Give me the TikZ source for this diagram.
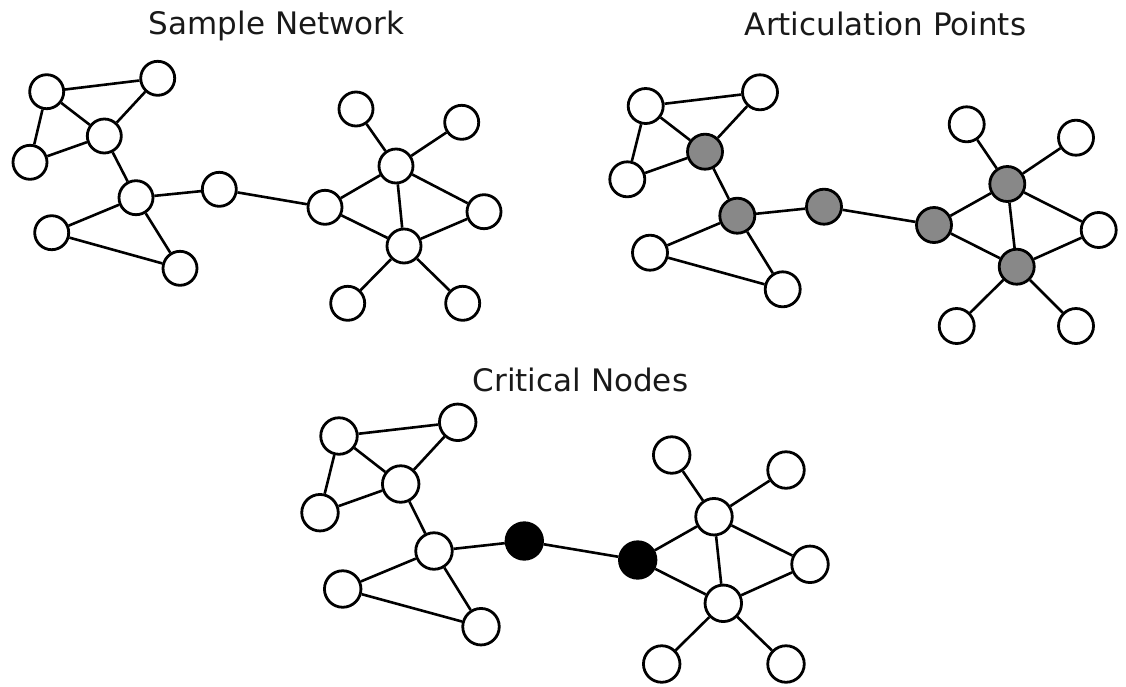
\documentclass[tikz,border=0pt]{standalone}
\usepackage{fontspec}
\setmainfont{DejaVu Sans}
\definecolor{apgray}{RGB}{136,136,136}
\definecolor{titlecol}{RGB}{25,25,25}
\begin{document}
\begin{tikzpicture}[x=1pt,y=-1pt,
  vtx/.style={circle,draw=black,line width=2.8pt,inner sep=0pt},
  wn/.style={vtx,fill=white},
  gn/.style={vtx,fill=apgray},
  bn/.style={vtx,fill=black},
  sz1/.style={minimum size=34pt},
  sz2/.style={minimum size=35pt},
  sz3/.style={minimum size=36.5pt},
  edge/.style={line width=2.6pt},
  title/.style={anchor=base,font=\fontsize{31}{37}\selectfont,text=titlecol}]
\useasboundingbox (0,0) rectangle (1126,686);
% titles
\node[title] (t1) at (276.7,34.3) {Sample Network};
\node[title] (t2) at (885.5,35) {Articulation Points};
\node[title] (t3) at (580.5,391) {Critical Nodes};
% ---------- graph 1: Sample Network ----------
\begin{scope}[every node/.append style={sz1}]
\node[wn] (aA) at (46.7,91.7) {};
\node[wn] (aB) at (157.7,78.3) {};
\node[wn] (aC) at (104.3,136) {};
\node[wn] (aD) at (30,162.3) {};
\node[wn] (aE) at (136,197.7) {};
\node[wn] (aF) at (51.7,232.7) {};
\node[wn] (aG) at (180,268.3) {};
\node[wn] (aH) at (219.3,189.3) {};
\node[wn] (aI) at (325,207.3) {};
\node[wn] (aJ) at (396,166) {};
\node[wn] (aK) at (356,109) {};
\node[wn] (aL) at (461.7,122.3) {};
\node[wn] (aM) at (484,211.7) {};
\node[wn] (aN) at (404,246) {};
\node[wn] (aO) at (347.7,303.3) {};
\node[wn] (aP) at (462.7,303.3) {};
\end{scope}
% ---------- graph 2: Articulation Points ----------
\begin{scope}[every node/.append style={sz2}]
\node[wn] (bA) at (645.7,106) {};
\node[wn] (bB) at (760,92.3) {};
\node[gn] (bC) at (705,151.7) {};
\node[wn] (bD) at (627.3,179.3) {};
\node[gn] (bE) at (737.3,215.7) {};
\node[wn] (bF) at (650,252.7) {};
\node[wn] (bG) at (782.7,289.3) {};
\node[gn] (bH) at (824,206.7) {};
\node[gn] (bI) at (934,225) {};
\node[gn] (bJ) at (1007.3,184) {};
\node[wn] (bK) at (966.7,124.3) {};
\node[wn] (bL) at (1076,137.7) {};
\node[wn] (bM) at (1098.7,230) {};
\node[gn] (bN) at (1016.7,266.7) {};
\node[wn] (bO) at (956.7,326) {};
\node[wn] (bP) at (1076,326) {};
\end{scope}
% ---------- graph 3: Critical Nodes ----------
\begin{scope}[every node/.append style={sz3}]
\node[wn] (cA) at (339,436) {};
\node[wn] (cB) at (457.7,422.3) {};
\node[wn] (cC) at (400.7,484) {};
\node[wn] (cD) at (320,512.7) {};
\node[wn] (cE) at (434,551) {};
\node[wn] (cF) at (342.7,589) {};
\node[wn] (cG) at (481,626.7) {};
\node[bn] (cH) at (524.3,541) {};
\node[bn] (cI) at (637.7,560) {};
\node[wn] (cJ) at (714,516.7) {};
\node[wn] (cK) at (671.7,455) {};
\node[wn] (cL) at (786,470) {};
\node[wn] (cM) at (810,564.3) {};
\node[wn] (cN) at (723.3,603.3) {};
\node[wn] (cO) at (661.7,664) {};
\node[wn] (cP) at (786,664) {};
\end{scope}
% edges
\foreach \g in {a,b,c}{
  \foreach \u/\v in {A/B,A/C,A/D,B/C,C/D,C/E,E/F,E/G,F/G,E/H,H/I,I/J,I/N,J/K,J/L,J/M,J/N,M/N,N/O,N/P}{
    \draw[edge] (\g\u) -- (\g\v);
  }
}
\end{tikzpicture}
\end{document}
